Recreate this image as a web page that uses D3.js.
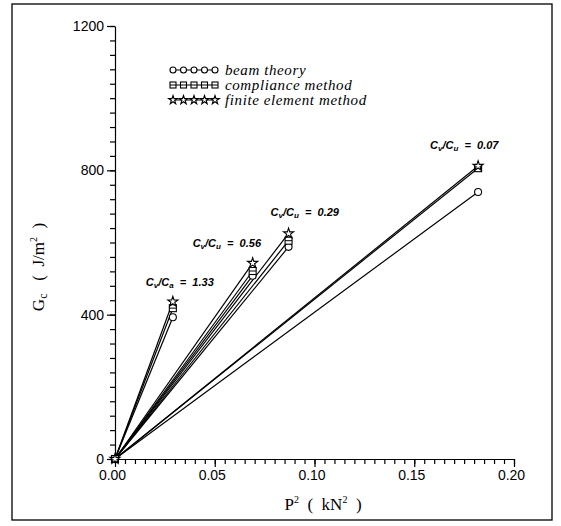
<!DOCTYPE html>
<html>
<head>
<meta charset="utf-8">
<script src="https://cdn.jsdelivr.net/npm/d3@7"></script>
<style>
  body { margin: 0; background: #fff; }
  svg { display: block; }
</style>
</head>
<body>
<svg id="chart" width="561" height="526"></svg>
<script>
// values
var ratioLabels = ["1.33", "0.56", "0.29", "0.07"]
var ratioSub = ["a", "u", "u", "u"]
var p2 = [0.029, 0.069, 0.087, 0.182]        // P^2 (kN^2)
var beamTheory = [393, 508, 588, 740]          // Gc (J/m^2)
var complianceMethod = [418, 521, 605, 806]
var finiteElement = [436, 543, 625, 812]
var xTicks = [0, 0.05, 0.10, 0.15, 0.20]
var yTicks = [0, 400, 800, 1200]

var series = [
    { name: "beam theory", values: beamTheory, symbol: "circle" },
    { name: "compliance method", values: complianceMethod, symbol: "square" },
    { name: "finite element method", values: finiteElement, symbol: "star" }
]

var svg = d3.select("#chart")

// outer frame
svg.append("rect")
    .attr("x", 12).attr("y", 4)
    .attr("width", 540).attr("height", 516)
    .attr("fill", "none").attr("stroke", "#000").attr("stroke-width", 1.3)

var x = d3.scaleLinear().domain([0, 0.20]).range([115, 514])
var y = d3.scaleLinear().domain([0, 1200]).range([459, 26])

function translate(a, b) {
    return "translate(" + a + "," + b + ")"
}

// axes: minor ticks then major ticks
var xAxisG = svg.append("g").attr("transform", translate(0, y(0)))
xAxisG.call(d3.axisBottom(x).tickValues(d3.range(0, 0.2001, 0.005)).tickSize(5).tickFormat(""))
xAxisG.call(g => g.select(".domain").remove())
var xMajor = svg.append("g").attr("transform", translate(0, y(0)))
    .call(d3.axisBottom(x).tickValues(xTicks).tickSize(8).tickSizeOuter(0).tickFormat(d3.format(".2f")))
xMajor.selectAll("text")
    .attr("font-family", "Liberation Sans, Arial, sans-serif")
    .attr("font-size", 14).attr("dx", -3).attr("y", 11)

var yAxisG = svg.append("g").attr("transform", translate(x(0), 0))
yAxisG.call(d3.axisLeft(y).tickValues(d3.range(0, 1201, 40)).tickSize(5).tickFormat(""))
yAxisG.call(g => g.select(".domain").remove())
var yMajor = svg.append("g").attr("transform", translate(x(0), 0))
    .call(d3.axisLeft(y).tickValues(yTicks).tickSize(8).tickSizeOuter(0).tickFormat(d3.format("d")))
yMajor.selectAll("text")
    .attr("font-family", "Liberation Sans, Arial, sans-serif")
    .attr("font-size", 14).attr("x", -11)

svg.selectAll(".domain, .tick line").attr("stroke", "#000").attr("stroke-width", 1.2)

// axis titles
var xt = svg.append("text")
    .attr("x", 323).attr("y", 510)
    .attr("text-anchor", "middle")
    .attr("xml:space", "preserve")
    .attr("font-family", "Liberation Serif, Times New Roman, serif")
    .attr("font-size", 17)
xt.append("tspan").text("P")
xt.append("tspan").attr("font-size", 10).attr("dy", -7).text("2")
xt.append("tspan").attr("dy", 7).text("  (  kN")
xt.append("tspan").attr("font-size", 10).attr("dy", -7).text("2")
xt.append("tspan").attr("dy", 7).text("  )")

var yt = svg.append("text")
    .attr("transform", translate(44, 267) + " rotate(-90)")
    .attr("text-anchor", "middle")
    .attr("xml:space", "preserve")
    .attr("font-family", "Liberation Serif, Times New Roman, serif")
    .attr("font-size", 17)
yt.append("tspan").text("G")
yt.append("tspan").attr("font-size", 12).attr("dy", 3).text("c")
yt.append("tspan").attr("dy", -3).text("   (  J/m")
yt.append("tspan").attr("font-size", 10).attr("dy", -7).text("2")
yt.append("tspan").attr("dy", 7).text("  )")

// symbols
function drawSymbol(g, type, cx, cy, s) {
    if (type === "circle") {
        g.append("circle").attr("cx", cx).attr("cy", cy).attr("r", s)
            .attr("fill", "#fff").attr("stroke", "#000").attr("stroke-width", 1.1)
    } else if (type === "square") {
        g.append("rect").attr("x", cx - s).attr("y", cy - s)
            .attr("width", 2 * s).attr("height", 2 * s)
            .attr("fill", "#fff").attr("stroke", "#000").attr("stroke-width", 1.1)
        g.append("line").attr("x1", cx - s).attr("x2", cx + s)
            .attr("y1", cy).attr("y2", cy).attr("stroke", "#000").attr("stroke-width", 1)
    } else {
        var star = d3.symbol().type(d3.symbolStar).size(s * s * 2.6)
        g.append("path").attr("d", star()).attr("transform", translate(cx, cy))
            .attr("fill", "#fff").attr("stroke", "#000").attr("stroke-width", 1.1)
    }
}

// lines from the origin to each point
var plot = svg.append("g")
series.forEach(function (s) {
    p2.forEach(function (p, i) {
        plot.append("line")
            .attr("x1", x(0)).attr("y1", y(0))
            .attr("x2", x(p)).attr("y2", y(s.values[i]))
            .attr("stroke", "#000").attr("stroke-width", 1.2)
    })
})
series.forEach(function (s) {
    drawSymbol(plot, s.symbol, x(0), y(0), 3.5)
    p2.forEach(function (p, i) {
        drawSymbol(plot, s.symbol, x(p), y(s.values[i]), 3.5)
    })
})

// ratio labels
var labelDx = [-27, -60, -18, -48]
var labelDy = [-16, -16, -17, -17]
p2.forEach(function (p, i) {
    var t = svg.append("text")
        .attr("x", x(p) + labelDx[i])
        .attr("y", y(finiteElement[i]) + labelDy[i])
        .attr("xml:space", "preserve")
        .attr("font-family", "Liberation Sans, Arial, sans-serif")
        .attr("font-weight", "bold").attr("font-style", "italic")
        .attr("font-size", 11)
    t.append("tspan").text("C")
    t.append("tspan").attr("font-size", 8).attr("dy", 2).text("v")
    t.append("tspan").attr("dy", -2).text("/C")
    t.append("tspan").attr("font-size", 8).attr("dy", 2).text(ratioSub[i])
    t.append("tspan").attr("dy", -2).text("  =  " + ratioLabels[i])
})

// legend
var legend = svg.append("g")
series.forEach(function (s, k) {
    var ly = 70 + k * 15
    legend.append("line").attr("x1", 171).attr("x2", 217)
        .attr("y1", ly).attr("y2", ly).attr("stroke", "#000").attr("stroke-width", 1)
    for (var j = 0; j < 5; j++) {
        drawSymbol(legend, s.symbol, 173 + j * 10.5, ly, 3)
    }
    legend.append("text")
        .attr("x", 225).attr("y", ly + 5)
        .attr("font-family", "Liberation Serif, serif")
        .attr("font-style", "italic")
        .attr("font-size", 15)
        .attr("letter-spacing", 0.6)
        .text(s.name)
})
</script>
</body>
</html>
